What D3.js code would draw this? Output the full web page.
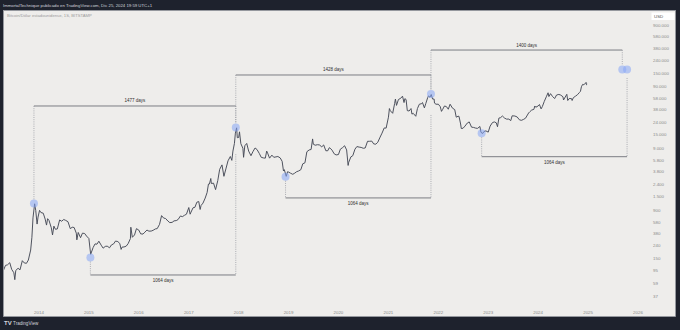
<!DOCTYPE html>
<html><head><meta charset="utf-8">
<script src="https://cdn.jsdelivr.net/npm/d3@7"></script>
<style>html,body{margin:0;padding:0;background:#1e222d;overflow:hidden}svg{display:block;font-family:"Liberation Sans",Arial,sans-serif}</style>
</head><body><svg id="c" width="680" height="330"></svg>
<script>
// ---- data ----
const priceDates = ["2013-04-15","2013-05-01","2013-05-15","2013-06-01","2013-06-15","2013-07-01","2013-07-08","2013-07-15","2013-08-01","2013-08-15","2013-09-01","2013-09-15","2013-10-01","2013-10-15","2013-11-01","2013-11-10","2013-11-18","2013-11-30","2013-12-08","2013-12-18","2013-12-25",
"2014-01-05","2014-01-15","2014-02-01","2014-02-15","2014-02-25","2014-03-05","2014-03-15","2014-04-01","2014-04-10","2014-04-20","2014-05-01","2014-05-15","2014-06-01","2014-06-15","2014-07-01","2014-07-15","2014-08-01","2014-08-18","2014-09-01","2014-09-15","2014-10-01","2014-10-05","2014-10-15","2014-11-01","2014-11-15","2014-12-01","2014-12-15",
"2015-01-01","2015-01-14","2015-02-01","2015-02-15","2015-03-01","2015-03-15","2015-04-01","2015-04-15","2015-05-01","2015-05-15","2015-06-01","2015-06-15","2015-07-01","2015-07-15","2015-08-01","2015-08-15","2015-08-25","2015-09-01","2015-09-15","2015-10-01","2015-10-15","2015-11-01","2015-11-04","2015-11-15","2015-12-01","2015-12-15",
"2016-01-01","2016-01-15","2016-02-01","2016-02-15","2016-03-01","2016-03-15","2016-04-01","2016-04-15","2016-05-01","2016-05-15","2016-06-01","2016-06-16","2016-07-01","2016-07-15","2016-08-01","2016-08-15","2016-09-01","2016-09-15","2016-10-01","2016-10-15","2016-11-01","2016-11-15","2016-12-01","2016-12-15",
"2017-01-01","2017-01-11","2017-01-15","2017-02-01","2017-02-15","2017-03-01","2017-03-15","2017-03-25","2017-04-01","2017-04-15","2017-05-01","2017-05-15","2017-05-25","2017-06-01","2017-06-11","2017-06-15","2017-07-01","2017-07-16","2017-08-01","2017-08-15","2017-09-01","2017-09-15","2017-10-01","2017-10-15","2017-11-01","2017-11-12","2017-11-20","2017-12-01","2017-12-08","2017-12-17","2017-12-22",
"2018-01-01","2018-01-07","2018-01-17","2018-02-01","2018-02-06","2018-02-15","2018-03-01","2018-03-15","2018-04-01","2018-04-15","2018-05-01","2018-05-15","2018-06-01","2018-06-15","2018-07-01","2018-07-15","2018-07-25","2018-08-01","2018-08-15","2018-09-01","2018-09-15","2018-10-01","2018-10-15","2018-11-01","2018-11-15","2018-11-25","2018-12-01","2018-12-15","2018-12-25",
"2019-01-01","2019-01-15","2019-02-01","2019-02-15","2019-03-01","2019-03-15","2019-04-01","2019-04-15","2019-05-01","2019-05-15","2019-06-01","2019-06-15","2019-06-26","2019-07-01","2019-07-15","2019-08-01","2019-08-15","2019-09-01","2019-09-15","2019-10-01","2019-10-15","2019-10-26","2019-11-01","2019-11-15","2019-12-01","2019-12-15",
"2020-01-01","2020-01-15","2020-02-01","2020-02-15","2020-03-01","2020-03-12","2020-03-15","2020-04-01","2020-04-15","2020-05-01","2020-05-15","2020-06-01","2020-06-15","2020-07-01","2020-07-15","2020-08-01","2020-08-15","2020-09-01","2020-09-15","2020-10-01","2020-10-15","2020-11-01","2020-11-15","2020-12-01","2020-12-15",
"2021-01-01","2021-01-08","2021-01-15","2021-02-01","2021-02-15","2021-02-21","2021-03-01","2021-03-15","2021-04-01","2021-04-14","2021-04-25","2021-05-01","2021-05-10","2021-05-19","2021-06-01","2021-06-15","2021-06-22","2021-07-01","2021-07-20","2021-08-01","2021-08-15","2021-09-01","2021-09-07","2021-09-21","2021-10-01","2021-10-15","2021-10-21","2021-11-01","2021-11-10","2021-11-20","2021-12-01","2021-12-04","2021-12-15",
"2022-01-01","2022-01-15","2022-01-24","2022-02-01","2022-02-15","2022-03-01","2022-03-15","2022-03-28","2022-04-15","2022-05-01","2022-05-12","2022-05-25","2022-06-01","2022-06-13","2022-06-18","2022-07-01","2022-07-15","2022-08-01","2022-08-15","2022-09-01","2022-09-15","2022-10-01","2022-10-15","2022-11-01","2022-11-09","2022-11-21","2022-12-01","2022-12-15",
"2023-01-01","2023-01-15","2023-02-01","2023-02-15","2023-03-01","2023-03-10","2023-03-20","2023-04-01","2023-04-15","2023-05-01","2023-05-15","2023-06-01","2023-06-15","2023-06-25","2023-07-15","2023-08-01","2023-08-17","2023-09-01","2023-09-15","2023-10-01","2023-10-24","2023-11-01","2023-11-15","2023-12-01","2023-12-08","2023-12-15",
"2024-01-01","2024-01-11","2024-01-23","2024-02-01","2024-02-15","2024-03-01","2024-03-14","2024-03-20","2024-04-01","2024-04-15","2024-05-01","2024-05-15","2024-06-01","2024-06-15","2024-07-01","2024-07-05","2024-07-29","2024-08-05","2024-08-15","2024-09-01","2024-09-06","2024-09-15","2024-10-01","2024-10-15","2024-10-29","2024-11-06","2024-11-13","2024-11-22","2024-12-01","2024-12-05","2024-12-17","2024-12-20","2024-12-25"];
const priceValues = [95,116,118,128,100,88,68,96,104,98,138,127,125,141,205,330,680,1150,900,540,700,
900,830,810,650,520,660,620,470,360,500,445,450,630,600,640,620,590,455,480,475,385,300,395,325,385,380,345,
315,175,225,258,255,285,246,220,235,237,223,248,258,287,281,262,210,229,230,237,260,315,480,330,360,455,
432,375,372,400,432,415,416,428,450,456,535,740,675,665,605,570,575,608,614,640,730,712,750,780,
1000,780,820,990,1010,1220,1250,930,1080,1180,1420,1750,2400,2400,2950,2450,2480,1950,2720,4150,4900,3200,4350,5700,6700,5800,8200,10900,16000,19500,13500,
13600,16800,10800,9100,6500,10000,10900,8200,6900,8000,9200,8700,7500,6500,6350,6300,8200,7600,6300,7050,6500,6600,6700,6350,5600,3900,4100,3200,3800,
3750,3600,3450,3600,3800,3900,4100,5100,5300,8000,8550,8700,12900,10600,10200,10400,10300,9600,10300,8300,8300,9300,9150,8500,7400,7100,
7200,8800,9350,10000,8550,4800,5300,6600,6900,8800,9700,9500,9400,9100,9200,11800,11800,11900,10700,10600,11400,13800,16000,19400,19300,
29000,40000,36800,33500,48000,57000,45000,56000,58800,63500,50000,57800,56000,37000,36500,40000,32500,33500,30000,40000,47000,48000,50000,41000,48000,60000,64000,61000,67500,57000,57000,49000,47000,
47000,43000,36000,38500,44000,43000,39000,47000,40500,38500,29000,30000,30000,22500,19000,19200,20800,23300,24300,20000,19800,19300,19100,20500,16500,15800,17000,17400,
16600,20800,23700,24300,23500,20300,28000,28500,30300,28000,27000,27000,25500,30500,30300,29200,26300,25800,26600,27900,34000,35400,37800,38800,44000,42000,
44000,46500,39500,43000,52000,62000,72000,62500,69700,63000,58000,66200,67700,66000,62000,55000,68000,54000,58000,58000,54000,60000,63500,67000,72500,76000,90000,98500,97000,98500,106000,97000,99000];

const yearTicks = [2014,2015,2016,2017,2018,2019,2020,2021,2022,2023,2024,2025,2026];
const priceTicks = [900000,580000,380000,240000,150000,90000,58000,38000,24000,15000,9000,5800,3800,2400,1500,900,580,380,240,150,95,59,37];
const priceTickLabels = ["900.000","580.000","380.000","240.000","150.000","90.000","58.000","38.000","24.000","15.000","9.000","5.800","3.800","2.400","1.500","900","580","380","240","150","95","59","37"];

const peakDates = ["2013-11-25","2017-12-11","2021-11-08"];
const peakPrices = [1160, 19700, 69000];
const peakGapDays = [1477, 1428, 1400];
const peakLineLevels = [44000, 139700, 354000];
const lowDates = ["2015-01-12","2018-12-10","2022-11-14"];
const lowPrices = [155, 3150, 15900];
const lowGapDays = [1064, 1064, 1064];
const lowLineLevels = [81, 1430, 6650];
const lowEndAnchorPrices = [7300, 31500, 125000];
const projectionPrice = 172000;

const headerText = "ImmortalTechnique publicado en TradingView.com, Dic 25, 2024 19:59 UTC+1";
const symbolText = "Bitcoin/Dólar estadounidense, 1S, BITSTAMP";

// ---- drawing ----
const W = 680, H = 330;
const svg = d3.select("#c");
const parse = d3.utcParse("%Y-%m-%d");
const x = d3.scaleUtc().domain([new Date(Date.UTC(2014,0,1)), new Date(Date.UTC(2026,0,1))]).range([39, 638]);
const y = d3.scaleLog().domain([37, 900000]).range([296, 25]);

// frame
svg.append("rect").attr("width", W).attr("height", H).attr("fill", "#1e222d");
svg.append("rect").attr("x", 3.5).attr("y", 10.5).attr("width", 672).attr("height", 306)
  .attr("fill", "#eeedeb").attr("stroke", "#9a9ca3").attr("stroke-width", 0.8);

svg.append("text").attr("x", 3).attr("y", 7).attr("font-size", 4.3).attr("fill", "#d1d4dc").text(headerText);
svg.append("text").attr("x", 7).attr("y", 17).attr("font-size", 4.2).attr("fill", "#9b9b9b").text(symbolText);

// TradingView footer
const tv = svg.append("g").attr("transform", "translate(4,320)");
tv.append("text").attr("x", 0).attr("y", 5.2).attr("font-size", 6).attr("font-weight", "bold").attr("fill", "#d1d4dc").text("TV");
tv.append("text").attr("x", 9).attr("y", 5).attr("font-size", 4.6).attr("fill", "#d1d4dc").text("TradingView");

// clip
svg.append("clipPath").attr("id", "plot").append("rect").attr("x", 4).attr("y", 11).attr("width", 644).attr("height", 295);

// x-axis labels
svg.append("g").selectAll("text").data(yearTicks).join("text")
  .attr("x", d => x(new Date(Date.UTC(d,0,1)))).attr("y", 313.5)
  .attr("text-anchor", "middle").attr("font-size", 4.4).attr("fill", "#8a8a8a").text(d => d);

// y-axis labels
svg.append("g").selectAll("text").data(priceTicks).join("text")
  .attr("x", 653).attr("y", d => y(d)).attr("dominant-baseline", "central")
  .attr("font-size", 4.4).attr("fill", "#8a8a8a").text((d, i) => priceTickLabels[i]);
svg.append("rect").attr("x", 651.5).attr("y", 12.5).attr("width", 23).attr("height", 7.5).attr("fill", "#ffffff");
svg.append("text").attr("x", 654).attr("y", 16.3).attr("dominant-baseline", "central")
  .attr("font-size", 4.4).attr("fill", "#555").text("USD");

const g = svg.append("g").attr("clip-path", "url(#plot)");

// price line
const pts = priceDates.map((d, i) => [parse(d), priceValues[i]]);
g.append("path").datum(pts)
  .attr("d", d3.line().x(d => x(d[0])).y(d => y(d[1])))
  .attr("fill", "none").attr("stroke", "#464a56").attr("stroke-width", 0.95).attr("stroke-linejoin", "miter");

const r = 4;
const dotted = (x0, y0, y1) => g.append("line").attr("x1", x0).attr("x2", x0).attr("y1", y0).attr("y2", y1)
  .attr("stroke", "#8e9099").attr("stroke-width", 0.7).attr("stroke-dasharray", "1,1.2");
const hline = (xa, xb, yy) => g.append("line").attr("x1", xa).attr("x2", xb).attr("y1", yy).attr("y2", yy)
  .attr("stroke", "#6e7078").attr("stroke-width", 0.9);
const label = (xm, yy, t) => g.append("text").attr("x", xm).attr("y", yy).attr("text-anchor", "middle")
  .attr("dominant-baseline", "central").attr("font-size", 4.5).attr("fill", "#2e2e2e").text(t);

const circles = [];
// peak-to-peak ranges
peakDates.forEach((ds, i) => {
  const s = parse(ds), e = d3.utcDay.offset(s, peakGapDays[i]);
  const ep = i < peakDates.length - 1 ? peakPrices[i + 1] : projectionPrice;
  const ly = y(peakLineLevels[i]);
  hline(x(s), x(e), ly);
  dotted(x(s), ly, y(peakPrices[i]) - r);
  dotted(x(e), ly, y(ep) - r);
  label((x(s) + x(e)) / 2, ly - 5, peakGapDays[i] + " days");
  circles.push([s, peakPrices[i]]);
  if (i === peakDates.length - 1) circles.push([e, projectionPrice]);
});
// low-to-low ranges
lowDates.forEach((ds, i) => {
  const s = parse(ds), e = d3.utcDay.offset(s, lowGapDays[i]);
  const ly = y(lowLineLevels[i]);
  hline(x(s), x(e), ly);
  dotted(x(s), y(lowPrices[i]) + r, ly);
  dotted(x(e), y(lowEndAnchorPrices[i]), ly);
  label((x(s) + x(e)) / 2, ly + 5.5, lowGapDays[i] + " days");
  circles.push([s, lowPrices[i]]);
  if (i === lowDates.length - 1) circles.push([e, projectionPrice]);
});
g.append("g").selectAll("circle").data(circles).join("circle")
  .attr("cx", d => x(d[0])).attr("cy", d => y(d[1])).attr("r", r)
  .attr("fill", "rgba(135,165,245,0.55)");
</script></body></html>
